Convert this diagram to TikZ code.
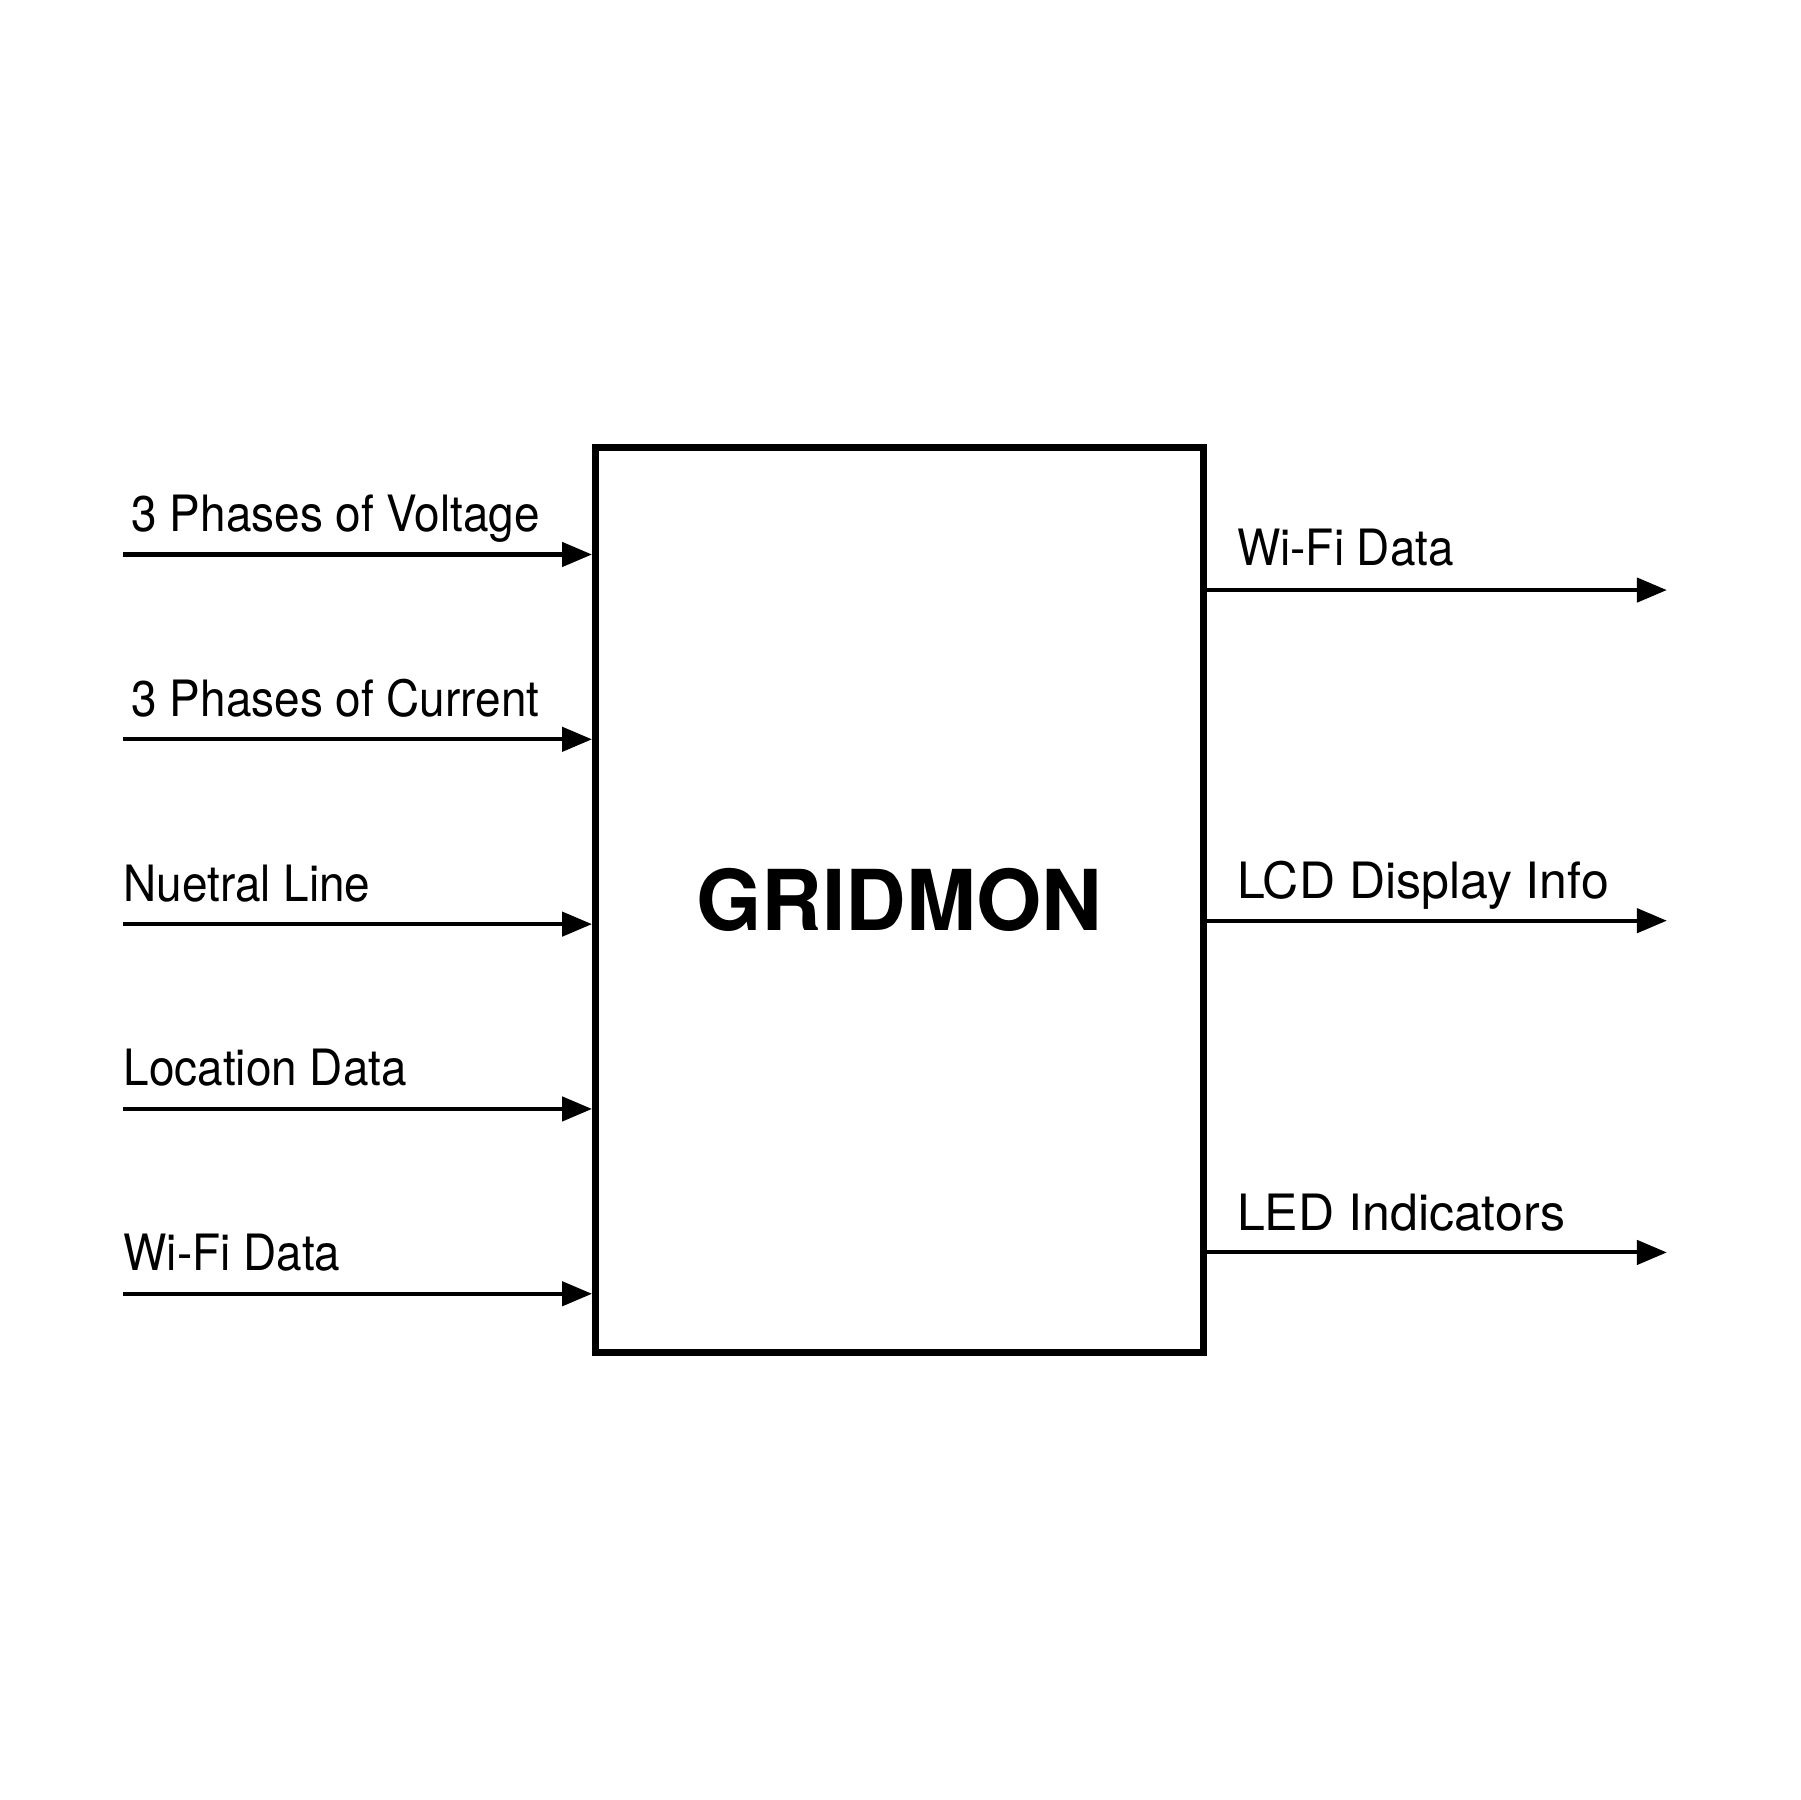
\documentclass[tikz,border=0pt]{standalone}
\usepackage{fontspec}
\setmainfont{TeX Gyre Heros}
\usetikzlibrary{arrows.meta, positioning}
\newcommand{\nrw}[1]{\scalebox{0.917}[1]{#1}}

\begin{document}
\begin{tikzpicture}[x=0.01cm,y=-0.01cm,inner sep=0pt,>={Triangle[length=2.6mm,width=2.1mm]},
  blk/.style={draw,line width=1.8pt,minimum width=5.29cm,minimum height=7.88cm,font=\fontsize{20.8}{25}\selectfont\bfseries},
  sig/.style={->,line width=1pt},
  lbl/.style={anchor=base west,font=\fontsize{12.4}{15}\selectfont}]
\useasboundingbox (0,0) rectangle (1568,1568);
\draw node [blk] (G) at (783.5,784) {GRIDMON};
% inputs
\coordinate (I1) at (107,483);
\coordinate (I2) at (107,644);
\coordinate (I3) at (107,805);
\coordinate (I4) at (107,966);
\coordinate (I5) at (107,1127);
\draw [sig] (I1) -- (I1 -| G.west);
\draw [sig] (I2) -- (I2 -| G.west);
\draw [sig] (I3) -- (I3 -| G.west);
\draw [sig] (I4) -- (I4 -| G.west);
\draw [sig] (I5) -- (I5 -| G.west);
\draw node [lbl] (LI1) at (114,463)  {\nrw{3 Phases of Voltage}};
\draw node [lbl] (LI2) at (114,624)  {\nrw{3 Phases of Current}};
\draw node [lbl] (LI3) at (107,785)  {\nrw{Nuetral Line}};
\draw node [lbl] (LI4) at (107,946)  {\nrw{Location Data}};
\draw node [lbl] (LI5) at (107,1107) {\nrw{Wi-Fi Data}};
% outputs
\coordinate (O1) at (1452,514);
\coordinate (O2) at (1452,802);
\coordinate (O3) at (1452,1091);
\draw [sig] (O1 -| G.east) -- (O1);
\draw [sig] (O2 -| G.east) -- (O2);
\draw [sig] (O3 -| G.east) -- (O3);
\draw node [lbl] (LO1) at (1077,493)  {\nrw{Wi-Fi Data}};
\draw node [lbl] (LO2) at (1077,783)  {LCD Display Info};
\draw node [lbl] (LO3) at (1077,1072) {LED Indicators};
\end{tikzpicture}
\end{document}
